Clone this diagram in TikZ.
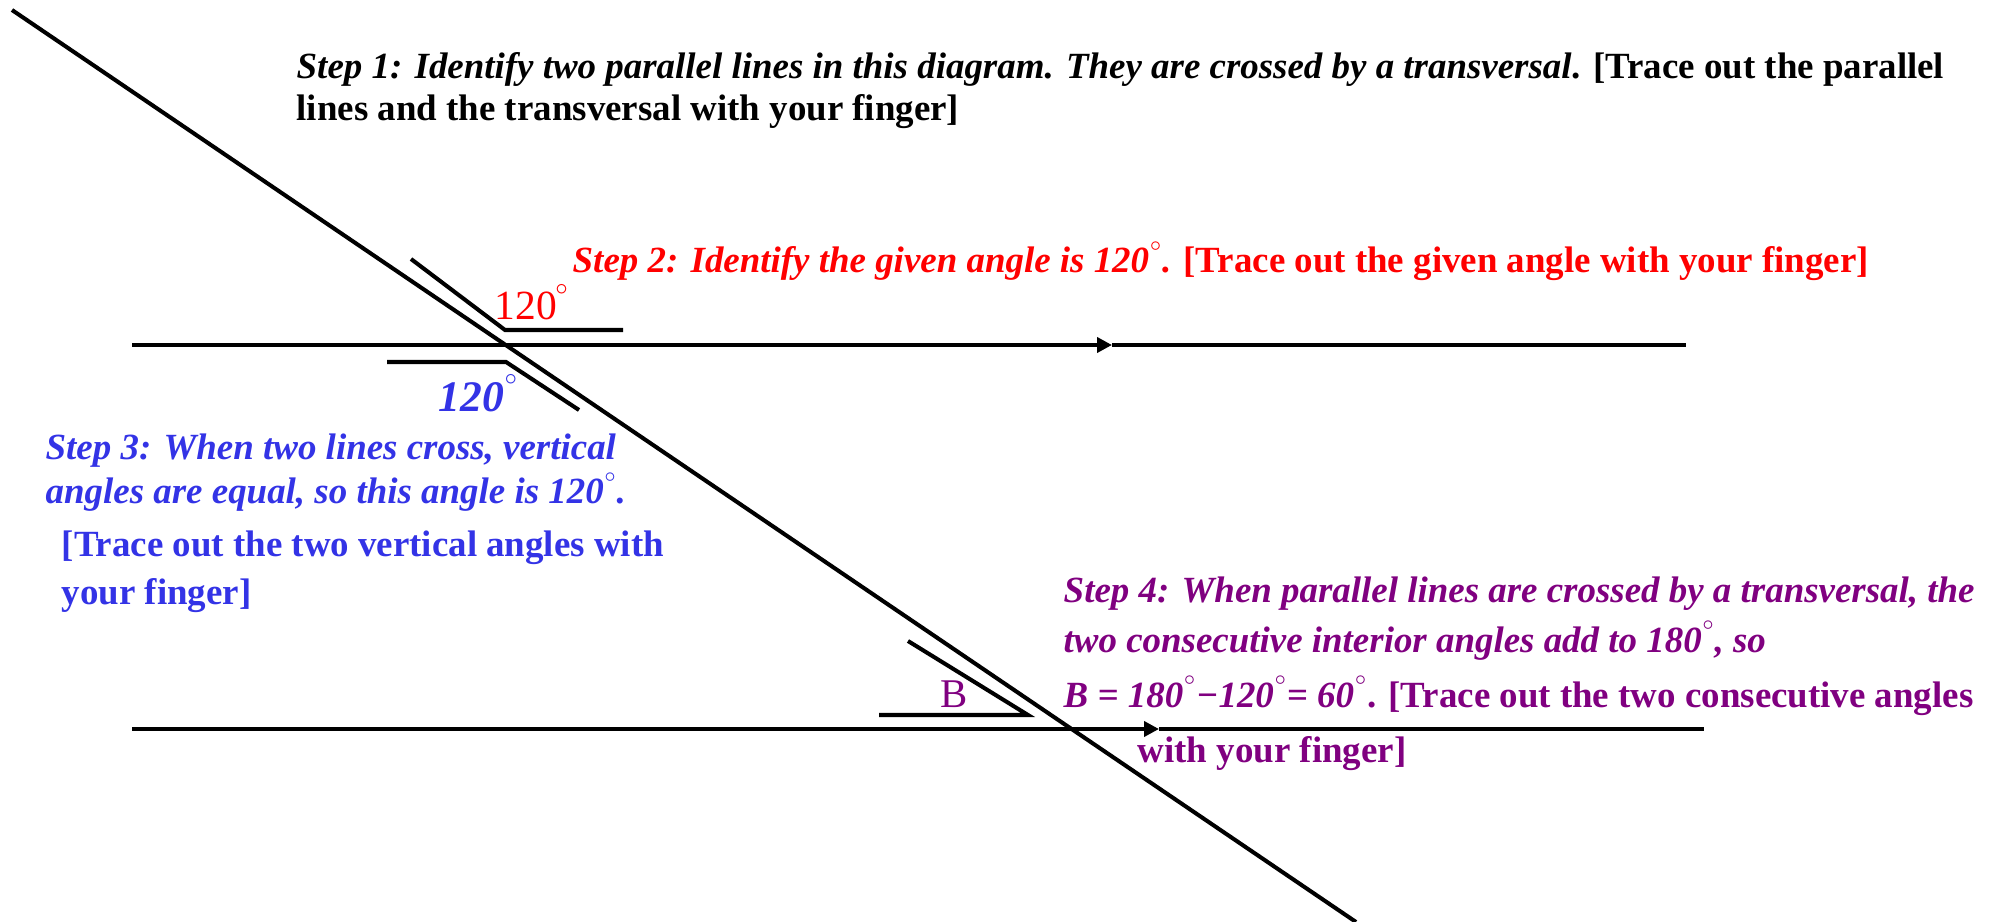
\documentclass[tikz,border=0pt]{standalone}
\usepackage{fontspec}
\setmainfont{Liberation Serif}
\usetikzlibrary{arrows.meta}
\definecolor{stepblue}{RGB}{51,51,230}
\definecolor{steppurple}{RGB}{128,0,128}
\newcommand{\dg}{\raisebox{0.62em}{$\scriptscriptstyle\circ$}}

\begin{document}
\begin{tikzpicture}[x=0.01cm, y=-0.01cm, >={Triangle[length=0.15cm,width=0.15cm]},
  line/.style={line width=1.15pt},
  txt/.style={anchor=base west, inner sep=0pt, font=\fontsize{10.5}{12}\selectfont\bfseries}]
  \useasboundingbox (0,0) rectangle (2004,922);

  % two parallel lines, each with an arrow half way
  \coordinate (ta) at (132,345);
  \coordinate (tm) at (1112,345);
  \coordinate (tb) at (1686,345);
  \coordinate (ba) at (132,729);
  \coordinate (bm) at (1159,729);
  \coordinate (bb) at (1704,729);
  \draw[line,->] (ta) -- (tm);
  \draw[line] (tm) -- (tb);
  \draw[line,->] (ba) -- (bm);
  \draw[line] (bm) -- (bb);

  % transversal
  \coordinate (xa) at (12,10);
  \coordinate (xb) at (1356,922);
  \draw[line] (xa) -- (xb);

  % angle marks: given, vertical, consecutive
  \draw[line] (411,259) -- (505,330) -- (623,330);
  \draw[line] (387,362) -- (506,362) -- (579,410);
  \draw[line] (908,641) -- (1028,715) -- (879,715);

  % angle labels
  \node[txt, red, font=\fontsize{11.8}{14}\selectfont] (given) at (494,320) {120\kern-0.05em\dg};
  \node[txt, stepblue, font=\fontsize{12.4}{14}\selectfont\bfseries\itshape] (vert) at (438,412) {120\dg};
  \node[txt, steppurple, font=\fontsize{11.6}{14}\selectfont] (angB) at (940,707) {B};

  % step 1
  \node[txt] (s1a) at (296,79) {\itshape Step 1: Identify two parallel lines in this diagram. They are crossed by a transversal\upshape. [Trace out the parallel};
  \node[txt] (s1b) at (296,121) {lines and the transversal with your finger]};

  % step 2
  \node[txt, red] (s2) at (572,273) {\itshape Step 2: Identify the given angle is 120\dg. \upshape[Trace out the given angle with your finger]};

  % step 3
  \node[txt, stepblue] (s3a) at (45,460) {\itshape Step 3: When two lines cross, vertical};
  \node[txt, stepblue] (s3b) at (45,504) {\itshape angles are equal, so this angle is 120\dg.};
  \node[txt, stepblue] (s3c) at (61,557) {[Trace out the two vertical angles with};
  \node[txt, stepblue] (s3d) at (61,604) {your finger]};

  % step 4
  \node[txt, steppurple] (s4a) at (1063,602) {\itshape Step 4: When parallel lines are crossed by a transversal, the};
  \node[txt, steppurple] (s4b) at (1063,652) {\itshape two consecutive interior angles add to 180\dg, so};
  \node[txt, steppurple] (s4c) at (1063,707) {\itshape B = 180\dg−120\dg= 60\dg\upshape. [Trace out the two consecutive angles};
  \node[txt, steppurple] (s4d) at (1137,762) {with your finger]};
\end{tikzpicture}
\end{document}
